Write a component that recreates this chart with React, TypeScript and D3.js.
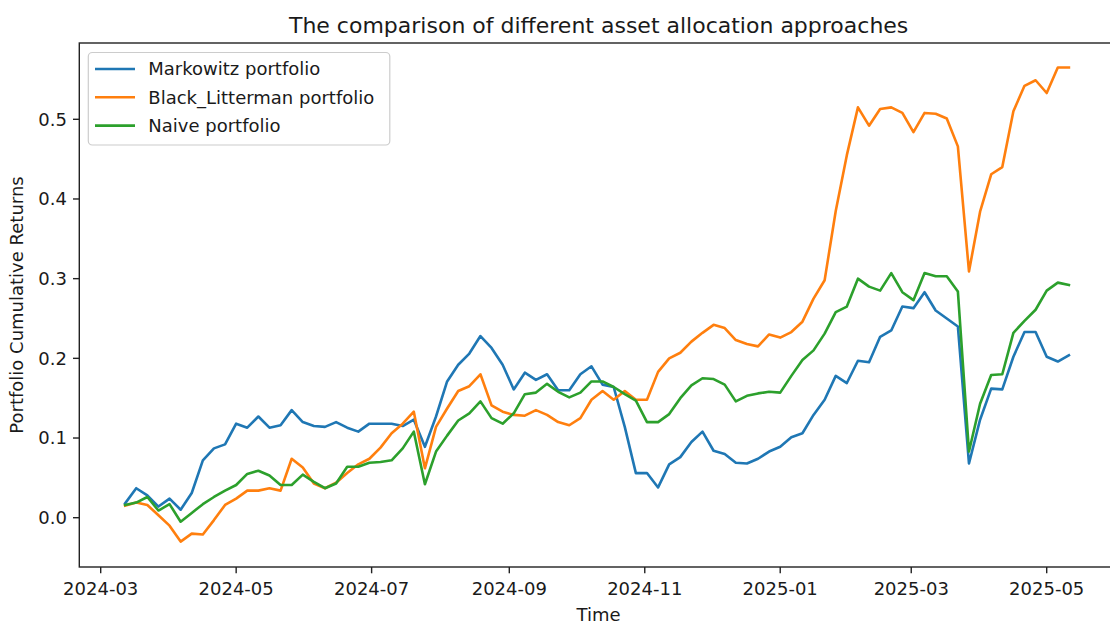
import React from "react";
import * as d3 from "d3";

const seriesNames = ["Markowitz portfolio", "Black_Litterman portfolio", "Naive portfolio"];
const seriesColors = ["#1f77b4", "#ff7f0e", "#2ca02c"];

// sampling grid of the chart: every 5 calendar days
const firstDate = "2024-03-12";
const lastDate = "2025-05-12";
const stepDays = 5;

const markowitz = [
  0.018, 0.037, 0.028, 0.014, 0.024, 0.010, 0.031, 0.072, 0.087, 0.092,
  0.118, 0.113, 0.127, 0.113, 0.116, 0.135, 0.120, 0.115, 0.114, 0.120,
  0.113, 0.108, 0.118, 0.118, 0.118, 0.115, 0.123, 0.089, 0.127, 0.171,
  0.192, 0.206, 0.228, 0.213, 0.192, 0.161, 0.182, 0.173, 0.180, 0.160,
  0.160, 0.180, 0.190, 0.167, 0.164, 0.114, 0.056, 0.056, 0.038, 0.067,
  0.076, 0.095, 0.108, 0.084, 0.080, 0.069, 0.068, 0.074, 0.083, 0.089,
  0.101, 0.106, 0.129, 0.148, 0.178, 0.169, 0.197, 0.195, 0.227, 0.235,
  0.265, 0.263, 0.283, 0.260, 0.250, 0.240, 0.068, 0.123, 0.162, 0.161,
  0.202, 0.233, 0.233, 0.202, 0.196, 0.204,
];

const blackLitterman = [
  0.015, 0.019, 0.016, 0.003, -0.010, -0.030, -0.020, -0.021, -0.003, 0.016,
  0.024, 0.034, 0.034, 0.037, 0.034, 0.074, 0.063, 0.043, 0.037, 0.044,
  0.056, 0.067, 0.074, 0.088, 0.106, 0.118, 0.133, 0.062, 0.114, 0.137,
  0.159, 0.165, 0.180, 0.141, 0.133, 0.129, 0.128, 0.135, 0.129, 0.120,
  0.116, 0.125, 0.148, 0.159, 0.148, 0.159, 0.148, 0.148, 0.183, 0.200,
  0.207, 0.221, 0.232, 0.242, 0.238, 0.223, 0.218, 0.215, 0.230, 0.226,
  0.233, 0.246, 0.275, 0.298, 0.385, 0.455, 0.515, 0.492, 0.513, 0.515,
  0.508, 0.484, 0.508, 0.507, 0.501, 0.466, 0.309, 0.384, 0.431, 0.440,
  0.510, 0.542, 0.549, 0.533, 0.565, 0.565,
];

const naive = [
  0.016, 0.019, 0.026, 0.009, 0.017, -0.005, 0.006, 0.017, 0.026, 0.034,
  0.041, 0.055, 0.059, 0.053, 0.041, 0.041, 0.054, 0.045, 0.037, 0.043,
  0.064, 0.064, 0.069, 0.070, 0.072, 0.087, 0.108, 0.042, 0.083, 0.103,
  0.122, 0.131, 0.146, 0.125, 0.118, 0.131, 0.155, 0.157, 0.168, 0.158,
  0.151, 0.157, 0.171, 0.171, 0.164, 0.155, 0.147, 0.120, 0.120, 0.130,
  0.150, 0.166, 0.175, 0.174, 0.167, 0.146, 0.153, 0.156, 0.158, 0.157,
  0.178, 0.198, 0.210, 0.231, 0.258, 0.265, 0.300, 0.290, 0.285, 0.307,
  0.283, 0.273, 0.307, 0.303, 0.303, 0.284, 0.083, 0.143, 0.179, 0.180,
  0.232, 0.247, 0.261, 0.285, 0.295, 0.292,
];

const yTicks = [0.0, 0.1, 0.2, 0.3, 0.4, 0.5];
const xTickStart = "2024-03-01";
const xTickEnd = "2025-05-01";

const titleText = "The comparison of different asset allocation approaches";
const xLabel = "Time";
const yLabel = "Portfolio Cumulative Returns";

const W = 1110;
const H = 624;
const FONT = "DejaVu Sans, sans-serif";

export default function App() {
  const parse = d3.utcParse("%Y-%m-%d");
  const dates = d3.utcDay.range(parse(firstDate)!, d3.utcDay.offset(parse(lastDate)!, 1), stepDays);
  const series = [markowitz, blackLitterman, naive];

  const left = 79.3;
  const right = 1118;
  const top = 43;
  const bottom = 567;

  const x = d3
    .scaleUtc()
    .domain([parse(xTickStart)!, parse(xTickEnd)!])
    .range([100.7, 1046.7]);
  const y = d3.scaleLinear().domain([0, 0.5]).range([517.7, 119.3]);

  const xTicks = d3.utcMonth.every(2)!.range(parse(xTickStart)!, d3.utcDay.offset(parse(xTickEnd)!, 1));
  const fmtX = d3.utcFormat("%Y-%m");
  const fmtY = d3.format(".1f");

  const line = d3
    .line<number>()
    .x((_, i) => x(dates[i]))
    .y((d) => y(d));

  const tickLen = 6.3;
  const fs = 18;

  return (
    <svg width={W} height={H} style={{ position: "absolute", left: 0, top: 0, background: "#fff" }} fontFamily={FONT}>
      <rect x={0} y={0} width={W} height={H} fill="#fff" />
      <text x={(left + right) / 2} y={33} textAnchor="middle" fontSize={22} fill="#1a1a1a">
        {titleText}
      </text>

      <g>
        {series.map((s, si) => (
          <path
            key={si}
            d={line(s.slice(0, dates.length)) || ""}
            fill="none"
            stroke={seriesColors[si]}
            strokeWidth={2.6}
            strokeLinejoin="round"
            strokeLinecap="square"
          />
        ))}
      </g>

      <rect x={left} y={top} width={right - left} height={bottom - top} fill="none" stroke="#222" strokeWidth={1.4} />

      {xTicks.map((t, i) => (
        <g key={i}>
          <line x1={x(t)} x2={x(t)} y1={bottom} y2={bottom + tickLen} stroke="#222" strokeWidth={1.4} />
          <text x={x(t)} y={595} textAnchor="middle" fontSize={fs} fill="#1a1a1a">
            {fmtX(t)}
          </text>
        </g>
      ))}
      {yTicks.map((v, i) => (
        <g key={i}>
          <line x1={left - tickLen} x2={left} y1={y(v)} y2={y(v)} stroke="#222" strokeWidth={1.4} />
          <text x={left - tickLen - 6} y={y(v)} dy="0.35em" textAnchor="end" fontSize={fs} fill="#1a1a1a">
            {fmtY(v)}
          </text>
        </g>
      ))}

      <text x={(left + right) / 2} y={621} textAnchor="middle" fontSize={fs} fill="#1a1a1a">
        {xLabel}
      </text>
      <text
        transform={`translate(23,${(top + bottom) / 2}) rotate(-90)`}
        textAnchor="middle"
        fontSize={fs}
        fill="#1a1a1a"
      >
        {yLabel}
      </text>

      <g>
        <rect x={88.3} y={52.5} width={301.5} height={92.5} rx={4} ry={4} fill="#fff" fillOpacity={0.8} stroke="#cccccc" strokeWidth={1.2} />
        {seriesNames.map((n, i) => (
          <g key={i} transform={`translate(0,${69 + i * 28.3})`}>
            <line x1={95} x2={135} y1={0} y2={0} stroke={seriesColors[i]} strokeWidth={2.6} />
            <text x={148.3} y={0} dy="0.35em" fontSize={fs} fill="#1a1a1a">
              {n}
            </text>
          </g>
        ))}
      </g>
    </svg>
  );
}
